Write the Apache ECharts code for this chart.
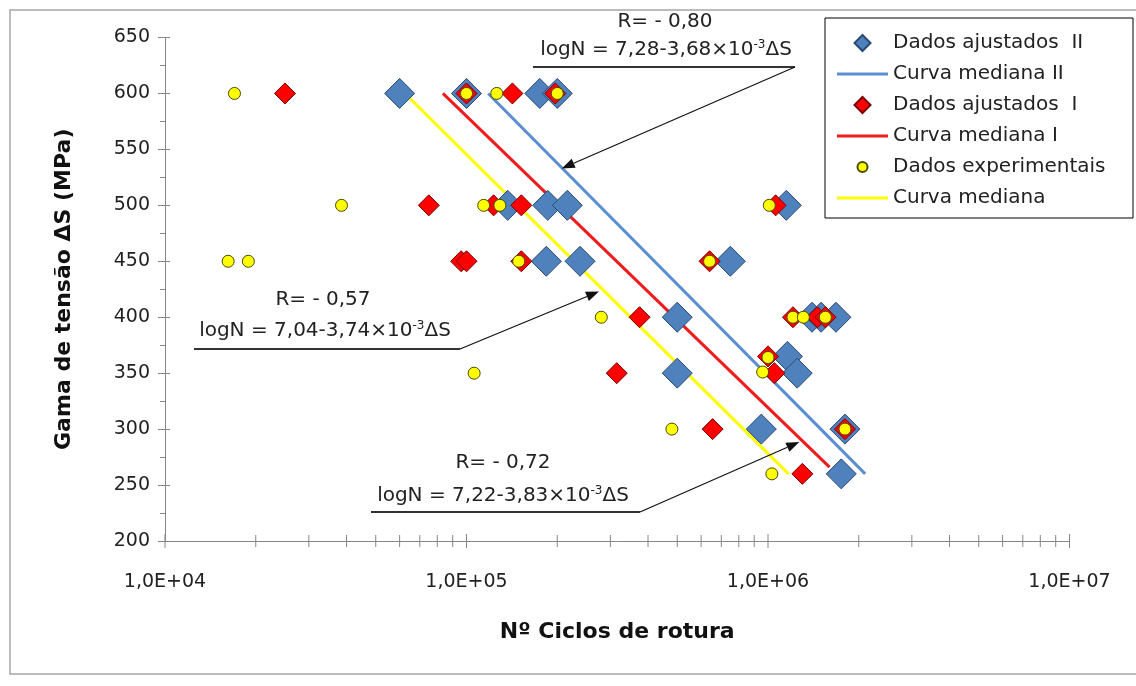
<!DOCTYPE html>
<html><head><meta charset="utf-8">
<script src="https://cdn.jsdelivr.net/npm/echarts@6/dist/echarts.min.js"></script>
<style>html,body{margin:0;padding:0;background:#fff}#c{width:1136px;height:686px}</style>
</head><body><div id="c"></div>
<script>
// ---------- data ----------
const seriesNames = ['Dados ajustados  II','Curva mediana II','Dados ajustados  I','Curva mediana I','Dados experimentais','Curva mediana'];
const xTickLabels = ['1,0E+04','1,0E+05','1,0E+06','1,0E+07'];
const yTickValues = [200,250,300,350,400,450,500,550,600,650];

// Dados ajustados II (blue diamonds)
const adjII_N = [6.0e4, 1.0e5, 1.75e5, 2.0e5, 1.37e5, 1.86e5, 2.16e5, 1.15e6, 1.84e5, 2.38e5, 7.5e5, 5.0e5, 1.40e6, 1.50e6, 1.68e6, 1.16e6, 5.0e5, 1.25e6, 9.5e5, 1.8e6, 1.75e6];
const adjII_S = [600, 600, 600, 600, 500, 500, 500, 500, 450, 450, 450, 400, 400, 400, 400, 365, 350, 350, 300, 300, 260];
// Dados ajustados I (red diamonds)
const adjI_N = [2.5e4, 1.0e5, 1.42e5, 1.97e5, 7.5e4, 1.23e5, 1.52e5, 1.06e6, 9.6e4, 1.0e5, 1.52e5, 6.4e5, 3.75e5, 1.21e6, 1.46e6, 1.55e6, 1.0e6, 3.15e5, 1.05e6, 6.55e5, 1.8e6, 1.3e6];
const adjI_S = [600, 600, 600, 600, 500, 500, 500, 500, 450, 450, 450, 450, 400, 400, 400, 400, 365, 350, 350, 300, 300, 260];
// Dados experimentais (yellow circles)
const exp_N = [1.7e4, 1.0e5, 1.26e5, 2.0e5, 3.85e4, 1.14e5, 1.29e5, 1.01e6, 1.62e4, 1.89e4, 1.49e5, 6.4e5, 2.8e5, 1.21e6, 1.31e6, 1.55e6, 1.0e6, 1.06e5, 9.6e5, 4.8e5, 1.8e6, 1.03e6];
const exp_S = [600, 600, 600, 600, 500, 500, 500, 500, 450, 450, 450, 450, 400, 400, 400, 400, 364, 350, 351, 300, 300, 260];
// median curves (end points)
const curveII_N = [1.18e5, 2.1e6];  const curveII_S = [600, 260];
const curveI_N  = [8.35e4, 1.6e6];  const curveI_S  = [600, 266];
const curve_N   = [6.25e4, 1.17e6]; const curve_S   = [600, 260];

// annotations
const annotR  = ['R= - 0,80', 'R= - 0,57', 'R= - 0,72'];
const annotEq = ['logN = 7,28-3,68×10{sup|-3}ΔS', 'logN = 7,04-3,74×10{sup|-3}ΔS', 'logN = 7,22-3,83×10{sup|-3}ΔS'];
const annotTip = [[2.07e5, 533], [2.75e5, 423], [1.27e6, 288.5]];

// ---------- chart ----------
const FONT = 'DejaVu Sans';
const AXIS_C = '#868686';
const pairs = (a, b) => a.map((v, i) => [v, b[i]]);
const xTickVals = [];
for (let e = 4; e <= 7; e++) { xTickVals.push([Math.pow(10, e), 1]); if (e < 7) for (let m = 2; m <= 9; m++) xTickVals.push([m * Math.pow(10, e), 0]); }

const chart = echarts.init(document.getElementById('c'), null, {renderer: 'canvas'});
const diamondPath = 'path://M8,0L16,8L8,16L0,8Z';
const circlePath = 'path://M0,0L0,0M16,16L16,16M13,8A5,5,0,1,1,3,8A5,5,0,1,1,13,8Z';
const linePath = 'path://M0,0L0,0M0,6.5L51,6.5L51,9.5L0,9.5ZM51,16L51,16';

chart.setOption({
  animation: false,
  backgroundColor: '#fff',
  grid: {left: 165, right: 66.5, top: 37.5, bottom: 145},
  xAxis: [{
    type: 'log', logBase: 10, min: 1e4, max: 1e7,
    axisLine: {lineStyle: {color: AXIS_C, width: 1}},
    axisTick: {show: false}, minorTick: {show: false}, splitLine: {show: false}, minorSplitLine: {show: false},
    axisLabel: {margin: 32, fontFamily: FONT, fontSize: 19, color: '#222',
      formatter: v => xTickLabels[Math.round(Math.log10(v)) - 4]},
    name: 'Nº Ciclos de rotura', nameLocation: 'middle', nameGap: 80,
    nameTextStyle: {fontFamily: FONT, fontWeight: 'bold', fontSize: 22, color: '#111'}
  }],
  yAxis: [{
    type: 'value', min: 200, max: 650, interval: 50,
    axisLine: {show: true, lineStyle: {color: AXIS_C, width: 1}},
    axisTick: {show: true, length: 7, lineStyle: {color: AXIS_C}},
    minorTick: {show: true, splitNumber: 2, length: 5, lineStyle: {color: AXIS_C}},
    splitLine: {show: false},
    axisLabel: {margin: 15, fontFamily: FONT, fontSize: 19, color: '#222'},
    name: 'Gama de tensão ΔS (MPa)', nameLocation: 'middle', nameGap: 90, nameRotate: 90,
    nameTextStyle: {fontFamily: FONT, fontWeight: 'bold', fontSize: 22, color: '#111'}
  }, {
    type: 'value', min: 200, max: 650, interval: 50, position: 'left',
    axisLine: {show: false}, axisLabel: {show: false}, splitLine: {show: false},
    axisTick: {show: true, inside: true, length: 5, lineStyle: {color: AXIS_C}},
    minorTick: {show: false}
  }],
  legend: {
    orient: 'vertical', left: 837, top: 33, padding: 0,
    itemWidth: 51, itemHeight: 16, itemGap: 11,
    textStyle: {fontFamily: FONT, fontSize: 20, color: '#222'},
    data: [
      {name: seriesNames[0], icon: diamondPath},
      {name: seriesNames[1], icon: linePath, itemStyle: {color: '#5B8ED0', borderWidth: 0}},
      {name: seriesNames[2], icon: diamondPath},
      {name: seriesNames[3], icon: linePath, itemStyle: {color: '#EE1C1C', borderWidth: 0}},
      {name: seriesNames[4], icon: circlePath},
      {name: seriesNames[5], icon: linePath, itemStyle: {color: '#FFFF00', borderWidth: 0}}
    ]
  },
  series: [
    {type: 'custom', silent: true, z: 1, clip: false, data: xTickVals,
      renderItem: (params, api) => {
        const p = api.coord([api.value(0), 200]);
        const h = api.value(1) ? 7 : 6;
        return {type: 'line', shape: {x1: p[0], y1: p[1] - h, x2: p[0], y2: p[1] + h},
          style: {stroke: AXIS_C, lineWidth: 1}};
      }},
    {name: seriesNames[1], type: 'line', data: pairs(curveII_N, curveII_S), symbol: 'none', z: 2,
      lineStyle: {color: '#5B8ED0', width: 3}, itemStyle: {color: '#5B8ED0'}},
    {name: seriesNames[3], type: 'line', data: pairs(curveI_N, curveI_S), symbol: 'none', z: 2,
      lineStyle: {color: '#EE1C1C', width: 3}, itemStyle: {color: '#EE1C1C'}},
    {name: seriesNames[5], type: 'line', data: pairs(curve_N, curve_S), symbol: 'none', z: 2,
      lineStyle: {color: '#FFFF00', width: 3}, itemStyle: {color: '#FFFF00'}},
    {name: seriesNames[0], type: 'scatter', data: pairs(adjII_N, adjII_S), symbol: 'diamond', symbolSize: 30, z: 3,
      itemStyle: {color: '#4F81BD', borderColor: '#2B4A73', borderWidth: 1, opacity: 1}},
    {name: seriesNames[2], type: 'scatter', data: pairs(adjI_N, adjI_S), symbol: 'diamond', symbolSize: 21, z: 4,
      itemStyle: {color: '#FF0000', borderColor: '#7A0000', borderWidth: 1, opacity: 1}},
    {name: seriesNames[4], type: 'scatter', data: pairs(exp_N, exp_S), symbol: 'circle', symbolSize: 12, z: 5,
      itemStyle: {color: '#FFFF00', borderColor: '#4A4A00', borderWidth: 1, opacity: 1}}
  ]
});

// ---------- annotations ----------
const textLayout = [
  {r: [665, 22], eq: [666, 50], ul: [533, 795, 67]},
  {r: [323, 300], eq: [325, 331], ul: [194, 460, 349]},
  {r: [503, 463], eq: [503, 496], ul: [371, 640, 512]}
];
const rich = {
  n: {fontFamily: FONT, fontSize: 20, lineHeight: 22, fill: '#222'},
  sup: {fontFamily: FONT, fontSize: 12, lineHeight: 12, verticalAlign: 'top', fill: '#222'}
};
const els = [{type: 'rect', silent: true, z: 0, shape: {x: 10, y: 10, width: 1140, height: 664},
  style: {fill: null, stroke: '#A6A6A6', lineWidth: 1.5}},
  {type: 'rect', silent: true, z: 10, shape: {x: 825, y: 18, width: 308, height: 200},
  style: {fill: null, stroke: '#000', lineWidth: 1}}];
textLayout.forEach((t, i) => {
  const tip = chart.convertToPixel({xAxisIndex: 0, yAxisIndex: 0}, annotTip[i]);
  const x0 = t.ul[1], y0 = t.ul[2];
  const ang = Math.atan2(tip[1] - y0, tip[0] - x0);
  const L = 13, W = 5;
  const bx = tip[0] - L * Math.cos(ang), by = tip[1] - L * Math.sin(ang);
  const px = -Math.sin(ang) * W, py = Math.cos(ang) * W;
  els.push({type: 'text', z: 10, x: t.r[0], y: t.r[1], style: {text: annotR[i], font: '20px "DejaVu Sans"', fill: '#222',
    align: 'center', verticalAlign: 'middle', textAlign: 'center', textVerticalAlign: 'middle'}});
  els.push({type: 'text', z: 10, x: t.eq[0], y: t.eq[1], style: {text: '{n|' + annotEq[i].replace('{sup|-3}', '}{sup|-3}{n|') + '}', rich: rich,
    align: 'center', verticalAlign: 'middle', textAlign: 'center', textVerticalAlign: 'middle'}});
  els.push({type: 'line', z: 10, shape: {x1: t.ul[0], y1: y0, x2: x0, y2: y0}, style: {stroke: '#333', lineWidth: 2}});
  els.push({type: 'line', z: 10, shape: {x1: x0, y1: y0, x2: bx, y2: by}, style: {stroke: '#111', lineWidth: 1.2}});
  els.push({type: 'polygon', z: 10, shape: {points: [[tip[0], tip[1]], [bx + px, by + py], [bx - px, by - py]]}, style: {fill: '#111'}});
});
chart.setOption({graphic: els});
</script>
</body></html>
